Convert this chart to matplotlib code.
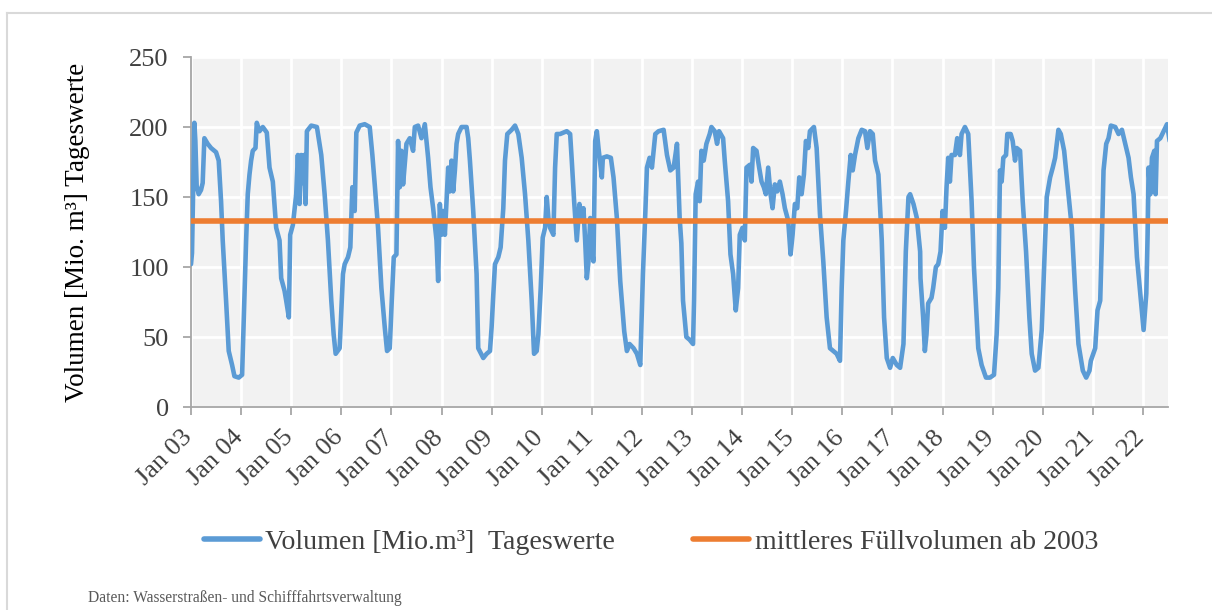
import matplotlib
matplotlib.use("Agg")
import matplotlib.pyplot as plt
from matplotlib.lines import Line2D
from matplotlib.transforms import ScaledTranslation

plt.rcParams['font.family'] = ['Liberation Serif', 'DejaVu Serif']

# ---- data (years since Jan 2003, volume in Mio. m³) ----
years_since_2003 = [
    0.000, 0.020, 0.067, 0.087, 0.113, 0.153, 0.200, 0.233, 0.267, 0.333, 0.400, 0.500, 0.553, 0.600,
    0.633, 0.700, 0.753, 0.820, 0.867, 0.953, 1.020, 1.067, 1.100, 1.133, 1.167, 1.200, 1.233, 1.287,
    1.313, 1.367, 1.433, 1.513, 1.567, 1.633, 1.700, 1.767, 1.800, 1.867, 1.900, 1.953, 1.980, 2.033,
    2.100, 2.133, 2.167, 2.200, 2.233, 2.260, 2.287, 2.313, 2.400, 2.513, 2.600, 2.667, 2.733, 2.800,
    2.847, 2.887, 2.967, 3.033, 3.067, 3.133, 3.180, 3.220, 3.267, 3.300, 3.367, 3.467, 3.567, 3.620,
    3.667, 3.733, 3.800, 3.867, 3.913, 3.967, 4.007, 4.047, 4.100, 4.133, 4.167, 4.200, 4.233, 4.300,
    4.367, 4.433, 4.467, 4.533, 4.600, 4.667, 4.733, 4.780, 4.833, 4.900, 4.933,
    4.967, 5.000, 5.033, 5.067, 5.133, 5.167, 5.200, 5.233, 5.267, 5.300, 5.333, 5.400, 5.500, 5.533,
    5.567, 5.633, 5.700, 5.733, 5.833, 5.900, 5.967, 6.000, 6.033, 6.067, 6.133, 6.180, 6.233, 6.267,
    6.313, 6.400, 6.467, 6.533, 6.600, 6.667, 6.733, 6.800, 6.847, 6.900, 6.933, 6.980, 7.020, 7.067,
    7.100, 7.133, 7.167, 7.233, 7.267, 7.300, 7.367, 7.433, 7.500, 7.567, 7.600, 7.647, 7.700, 7.753,
    7.800, 7.833, 7.867, 7.900, 7.933, 7.967, 8.000, 8.033, 8.067, 8.100, 8.133, 8.200, 8.220, 8.300,
    8.380, 8.433, 8.500, 8.567, 8.647, 8.700, 8.753, 8.833, 8.900, 8.967, 9.020, 9.067, 9.100, 9.153,
    9.200, 9.267, 9.333, 9.433, 9.500, 9.567, 9.633, 9.700,
    9.753, 9.787, 9.820, 9.887, 9.953, 10.020, 10.040, 10.073, 10.120, 10.153, 10.187, 10.233, 10.287,
    10.353, 10.387, 10.453, 10.500, 10.540, 10.620, 10.653, 10.720, 10.767, 10.820, 10.873, 10.920,
    10.953, 11.007, 11.053, 11.087, 11.153, 11.187, 11.220, 11.287, 11.340, 11.387, 11.433, 11.473,
    11.520, 11.567, 11.607, 11.653, 11.700, 11.753, 11.807, 11.853, 11.920, 11.967, 12.007, 12.053,
    12.100, 12.140, 12.187, 12.233, 12.273, 12.320, 12.353, 12.433, 12.487, 12.553, 12.620, 12.687,
    12.753, 12.820, 12.887, 12.953, 12.987, 13.020, 13.073, 13.120, 13.167, 13.207, 13.253, 13.320,
    13.387, 13.453, 13.500, 13.553, 13.607, 13.653, 13.720, 13.787, 13.833, 13.887, 13.953, 14.007,
    14.087, 14.153, 14.220, 14.267, 14.320, 14.353, 14.420, 14.487, 14.553,
    14.560, 14.613, 14.647, 14.680, 14.713, 14.780, 14.813, 14.867, 14.913, 14.960, 15.000, 15.047,
    15.080, 15.113, 15.147, 15.180, 15.247, 15.293, 15.347, 15.380, 15.447, 15.513, 15.580, 15.627,
    15.713, 15.780, 15.867, 15.947, 16.027, 16.080, 16.113, 16.147, 16.180, 16.213, 16.267, 16.293,
    16.360, 16.400, 16.447, 16.480, 16.547, 16.600, 16.667, 16.733, 16.780, 16.847, 16.913, 16.980,
    17.027, 17.080, 17.147, 17.200, 17.247, 17.280, 17.313, 17.360, 17.427, 17.513, 17.580, 17.647,
    17.713, 17.800, 17.867, 17.933, 17.960, 18.047, 18.093, 18.147, 18.180, 18.213, 18.267, 18.313,
    18.360, 18.447, 18.513, 18.580, 18.647, 18.713, 18.760, 18.813, 18.880, 18.947, 19.013, 19.067,
    19.093, 19.113, 19.147, 19.180, 19.227, 19.253, 19.280, 19.347, 19.413, 19.480, 19.533,
]
volume = [
    102, 110, 203, 190, 158, 152, 155, 160, 192, 188, 185, 182, 176, 147,
    119, 76, 40, 30, 22, 21, 23, 80, 119, 152, 166, 176, 183, 185,
    203, 197, 200, 196, 171, 161, 128, 119, 92, 83, 76, 64, 123, 130,
    152, 180, 145, 180, 160, 180, 145, 197, 201, 200, 180, 152, 119, 76,
    52, 38, 42, 95, 102, 107, 114, 157, 140, 196, 201, 202, 200, 180,
    159, 128, 85, 57, 40, 42, 76, 107, 109, 190, 157, 183, 159, 188,
    192, 183, 200, 201, 192, 202, 178, 157, 142, 119, 90,
    145, 123, 140, 123, 171, 154, 176, 154, 169, 188, 195, 200, 200, 192,
    176, 140, 95, 42, 35, 38, 40, 57, 80, 102, 107, 114, 142, 176,
    195, 198, 201, 195, 178, 152, 119, 76, 38, 40, 52, 85, 121, 128,
    150, 135, 128, 123, 171, 195, 195, 196, 197, 195, 176, 147, 119, 145,
    133, 142, 119, 92, 104, 135, 112, 104, 190, 197, 185, 164, 178, 179,
    178, 164, 135, 90, 54, 40, 45, 42, 38, 30, 95, 138, 171, 178,
    171, 195, 197, 198, 180, 169, 171, 188,
    135, 117, 76, 50, 48, 45, 76, 152, 161, 147, 183, 176, 188,
    195, 200, 197, 188, 197, 192, 176, 147, 109, 95, 69, 85,
    123, 128, 119, 171, 173, 161, 185, 183, 171, 161, 157, 152,
    171, 152, 142, 159, 154, 161, 152, 142, 133, 109, 123, 145,
    142, 164, 152, 166, 190, 185, 197, 200, 185, 138, 104, 64,
    42, 40, 38, 33, 85, 119, 140, 161, 180, 169, 180, 192,
    198, 197, 185, 197, 195, 176, 166, 119, 64, 35, 28, 35,
    30, 28, 45, 111, 150, 152, 145, 135, 111,
    92, 64, 40, 52, 74, 78, 85, 100, 102, 111, 140, 128,
    157, 178, 161, 180, 180, 192, 180, 195, 200, 195, 147, 100,
    42, 30, 21, 21, 23, 52, 85, 169, 161, 178, 180, 195,
    195, 190, 176, 185, 183, 147, 111, 64, 38, 26, 28, 55,
    100, 150, 164, 171, 178, 188, 198, 195, 183, 152, 128, 83,
    45, 26, 21, 26, 33, 42, 69, 76, 119, 169, 188, 192,
    201, 200, 195, 198, 188, 178, 164, 152, 107, 81, 55, 81,
    123, 171, 152, 178, 183, 152, 190, 192, 197, 202, 190,
]
mean_volume = 133
mean_span = [0.0, 19.5]
tick_years = list(range(20))
tick_labels = ["Jan %02d" % (3 + i) for i in range(20)]
y_ticks = [0, 50, 100, 150, 200, 250]

label_series = "Volumen [Mio.m³]  Tageswerte"
label_mean = "mittleres Füllvolumen ab 2003"

# ---- figure ----
W, H = 1212, 610
fig = plt.figure(figsize=(W / 100, H / 100), dpi=100)

# outer light frame
fig.add_artist(Line2D([7 / W, 7 / W], [0, 1 - 13 / H], color='#D9D9D9', lw=1.5,
                      transform=fig.transFigure))
fig.add_artist(Line2D([7 / W, 1], [1 - 13 / H, 1 - 13 / H], color='#D9D9D9', lw=1.5,
                      transform=fig.transFigure))

ax = fig.add_axes([191 / W, 1 - 407 / H, 977 / W, 350 / H])
ax.set_facecolor('#F2F2F2')

ax.plot(years_since_2003, volume, color='#5B9BD5', lw=3.3,
        solid_joinstyle='round', solid_capstyle='round', zorder=3)
ax.plot(mean_span, [mean_volume, mean_volume], color='#ED7D31', lw=4.0, zorder=4,
        solid_capstyle='butt')

ax.set_xlim(0, 19.5)
ax.set_ylim(0, 250)
ax.set_xticks(tick_years)
ax.set_xticklabels(tick_labels, rotation=45, ha='right', va='top')
ax.set_yticks(y_ticks)

ax.grid(True, color='white', lw=2.0, zorder=1)
ax.set_axisbelow(True)
for s in ['top', 'right']:
    ax.spines[s].set_visible(False)
for s in ['left', 'bottom']:
    ax.spines[s].set_color('#A6A6A6')
    ax.spines[s].set_linewidth(1.3)

ax.tick_params(axis='both', colors='#404040', labelsize=19, direction='out')
ax.tick_params(axis='x', length=6, width=1.3, color='#A6A6A6', pad=8)
ax.tick_params(axis='y', length=6, width=1.3, color='#A6A6A6', pad=10)

offset = ScaledTranslation(6 / 100, 0, fig.dpi_scale_trans)
for lbl in ax.get_xticklabels():
    lbl.set_transform(lbl.get_transform() + offset)

ax.set_ylabel("Volumen [Mio. m³] Tageswerte", fontsize=19.5, color='black', labelpad=28)

handles = [Line2D([], [], color='#5B9BD5', lw=4, solid_capstyle='round'),
           Line2D([], [], color='#ED7D31', lw=4, solid_capstyle='round')]
fig.legend(handles, [label_series, label_mean], loc='center',
           bbox_to_anchor=(651 / W, 1 - 542 / H), ncol=2, frameon=False,
           fontsize=20.1, handlelength=2.0, handletextpad=0.2, columnspacing=2.8,
           labelcolor='#404040')

fig.text(88 / W, 1 - 598 / H, "Daten: Wasserstraßen- und Schifffahrtsverwaltung",
         fontsize=11.2, color='#595959', ha='left', va='center')

fig.savefig('out.png', dpi=100)
